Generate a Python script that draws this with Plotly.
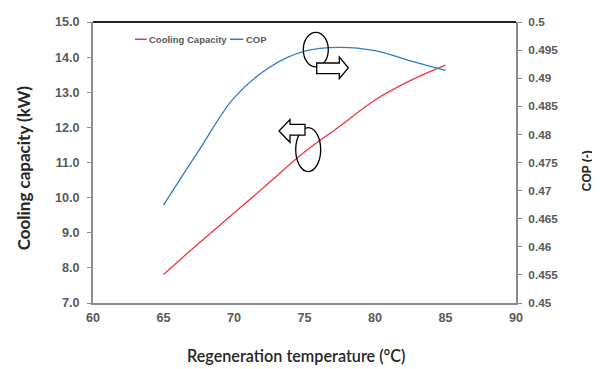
import plotly.graph_objects as go

temperature = [65, 67.5, 70, 72.5, 75, 77.5, 80, 82.5, 85]
cooling_capacity = [7.81, 8.70, 9.56, 10.43, 11.30, 12.03, 12.78, 13.33, 13.77]
cop = [0.4674, 0.4771, 0.4865, 0.4919, 0.4948, 0.4955, 0.4949, 0.4931, 0.4914]

x_ticks = [60, 65, 70, 75, 80, 85, 90]
left_ticks = [7, 8, 9, 10, 11, 12, 13, 14, 15]

RED = "#F5333F"
BLUE = "#2F7DC4"
GRAY = "#595959"

# browser body margin offset
OFF = 8
W, H = 600 - OFF, 369 - OFF
# plot area in page pixels: x 93..516, y 15..303
L, R, T, B = 93, 516, 15, 303


def px(x):
    return (x - L) / (R - L)


def py(y):
    return (B - y) / (B - T)


fig = go.Figure()
fig.add_trace(go.Scatter(x=temperature, y=cooling_capacity, mode="lines",
                         line=dict(color=RED, width=1.3, shape="spline"),
                         name="Cooling Capacity", showlegend=False))
fig.add_trace(go.Scatter(x=temperature, y=cop, mode="lines", yaxis="y2",
                         line=dict(color=BLUE, width=1.3, shape="spline"),
                         name="COP", showlegend=False))

tickfont = dict(family="Liberation Sans, Arial", size=12.6, color=GRAY, weight="bold")
tickfont_r = dict(family="Liberation Sans, Arial", size=11.8, color=GRAY, weight="bold")

fig.update_layout(
    width=W, height=H,
    margin=dict(l=L - OFF, r=600 - R, t=T - OFF, b=369 - B),
    paper_bgcolor="white", plot_bgcolor="white",
    xaxis=dict(range=[60, 90], tickvals=x_ticks, showgrid=False, zeroline=False,
               showline=True, linecolor="#8c8c8c", linewidth=2, ticks="",
               tickfont=tickfont, ticklabelstandoff=2),
    yaxis=dict(range=[7, 15], tickvals=left_ticks, tickformat=".1f", showgrid=False,
               zeroline=False, showline=True, linecolor="#8c8c8c", linewidth=2,
               ticks="outside", ticklen=4, tickcolor="#8c8c8c", tickfont=tickfont,
               ticklabelstandoff=5),
    yaxis2=dict(range=[0.45, 0.5], dtick=0.005, overlaying="y", side="right",
                showgrid=False, zeroline=False, showline=True, linecolor="#8c8c8c",
                linewidth=2, ticks="outside", ticklen=4, tickcolor="#8c8c8c",
                tickfont=tickfont_r, ticklabelstandoff=4),
    showlegend=False,
)

shapes = []
# top border (dark)
shapes.append(dict(type="line", xref="paper", yref="paper", x0=0, x1=1, y0=1, y1=1,
                   line=dict(color="#222222", width=2)))
# legend lines
shapes.append(dict(type="line", xref="paper", yref="paper", x0=px(135), x1=px(146.7),
                   y0=py(32.7), y1=py(32.7), line=dict(color=RED, width=1.5)))
shapes.append(dict(type="line", xref="paper", yref="paper", x0=px(230), x1=px(243.3),
                   y0=py(32.7), y1=py(32.7), line=dict(color=BLUE, width=1.5)))
# ellipses
shapes.append(dict(type="circle", xref="paper", yref="paper", x0=px(303.3), x1=px(328.3),
                   y0=py(61), y1=py(25.7), line=dict(color="black", width=1.3)))
shapes.append(dict(type="circle", xref="paper", yref="paper", x0=px(295.7), x1=px(320.7),
                   y0=py(168.3), y1=py(123.3), line=dict(color="black", width=1.3)))


def arrow_path(pts):
    return "M " + " L ".join(f"{px(a):.5f},{py(b):.5f}" for a, b in pts) + " Z"


right_arrow = [(316.7, 57), (339.3, 57), (339.3, 51), (348.3, 62),
               (339.3, 73), (339.3, 68), (316.7, 68)]
left_arrow = [(305, 120), (290, 120), (290, 115), (279, 126.7),
              (290, 138.3), (290, 131), (305, 131)]
shapes.append(dict(type="path", xref="paper", yref="paper", path=arrow_path(right_arrow),
                   fillcolor="white", line=dict(color="black", width=1.3)))
shapes.append(dict(type="path", xref="paper", yref="paper", path=arrow_path(left_arrow),
                   fillcolor="white", line=dict(color="black", width=1.3)))
fig.update_layout(shapes=shapes)

legend_font = dict(family="Liberation Sans, Arial", size=9.5, color=GRAY, weight="bold")
annotations = [
    dict(text="Cooling Capacity", x=px(147), y=py(32.7), xanchor="left", yanchor="middle",
         font=legend_font),
    dict(text="COP", x=px(243.5), y=py(32.7), xanchor="left", yanchor="middle",
         font=legend_font),
    dict(text="Cooling capacity (kW)", x=px(23), y=py(165), textangle=-90,
         xanchor="center", yanchor="middle",
         font=dict(family="Lato", size=17, color="#262626", weight="bold")),
    dict(text="COP (-)", x=px(587), y=py(168), textangle=-90,
         xanchor="center", yanchor="middle",
         font=dict(family="Liberation Sans, Arial", size=12, color="#262626", weight="bold")),
    dict(text="Regeneration temperature (°C)", x=px(296), y=py(357),
         xanchor="center", yanchor="middle",
         font=dict(family="Lato", size=16.2, color="#262626", weight=600)),
]
for a in annotations:
    a.update(xref="paper", yref="paper", showarrow=False)
fig.update_layout(annotations=annotations)

fig.write_html("out.html")
